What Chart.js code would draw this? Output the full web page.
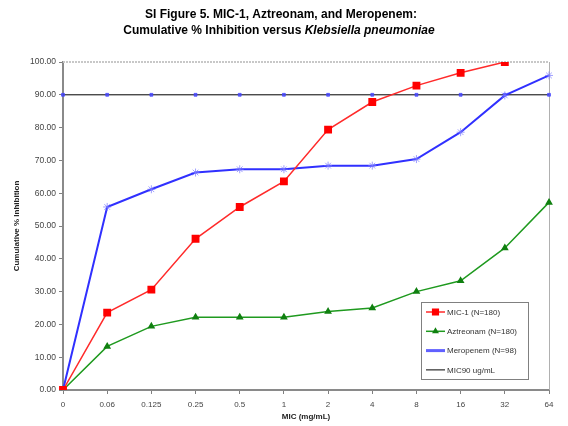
<!DOCTYPE html>
<html>
<head>
<meta charset="utf-8">
<script src="https://cdn.jsdelivr.net/npm/chart.js@4/dist/chart.umd.min.js"></script>
<style>
  html, body { margin: 0; padding: 0; background: #fff; }
  #wrap { width: 568px; height: 426px; position: relative; }
</style>
</head>
<body>
<div id="wrap"><canvas id="micChart" width="568" height="426"></canvas></div>
<script>
// MIC values (mg/mL) along the x axis
const micLabels = ['0', '0.06', '0.125', '0.25', '0.5', '1', '2', '4', '8', '16', '32', '64'];
const yTicks = [0, 10, 20, 30, 40, 50, 60, 70, 80, 90, 100];

// cumulative % inhibition per drug
const mic1 = [0, 23.6, 30.6, 46.1, 55.8, 63.6, 79.4, 87.8, 92.8, 96.7, 100, null];
const aztreonam = [0, 13.3, 19.4, 22.2, 22.2, 22.2, 23.9, 25.0, 30.0, 33.3, 43.3, 57.2];
const meropenem = [0, 55.8, 61.2, 66.3, 67.3, 67.3, 68.4, 68.4, 70.4, 78.6, 89.8, 95.9];
const mic90 = [90, 90, 90, 90, 90, 90, 90, 90, 90, 90, 90, 90];

const seriesNames = ['MIC-1 (N=180)', 'Aztreonam (N=180)', 'Meropenem (N=98)', 'MIC90 ug/mL'];

const FONT = '"Liberation Sans", Arial, sans-serif';

// title, frame and in-plot legend
const decorPlugin = {
  id: 'decor',
  beforeDatasetsDraw(chart) {
    const { ctx, chartArea: a } = chart;
    ctx.save();
    // dotted top edge and plain right edge of the plot
    ctx.strokeStyle = '#c8c8c8';
    ctx.lineWidth = 2;
    ctx.setLineDash([2, 1]);
    ctx.beginPath();
    ctx.moveTo(a.left, a.top);
    ctx.lineTo(a.right, a.top);
    ctx.stroke();
    ctx.setLineDash([]);
    ctx.strokeStyle = '#b0b0b0';
    ctx.lineWidth = 1;
    ctx.beginPath();
    ctx.moveTo(a.right + 0.5, a.top);
    ctx.lineTo(a.right + 0.5, a.bottom);
    ctx.stroke();
    ctx.restore();
  },
  afterDraw(chart) {
    const { ctx } = chart;
    ctx.save();

    // two-line title, species name in italics
    ctx.fillStyle = '#000';
    ctx.textBaseline = 'middle';
    ctx.textAlign = 'center';
    ctx.font = 'bold 12px ' + FONT;
    ctx.fillText('SI Figure 5. MIC-1, Aztreonam, and Meropenem:', 281, 15);
    const partA = 'Cumulative % Inhibition versus ';
    const partB = 'Klebsiella pneumoniae';
    ctx.font = 'bold 12px ' + FONT;
    const wA = ctx.measureText(partA).width;
    ctx.font = 'italic bold 12px ' + FONT;
    const wB = ctx.measureText(partB).width;
    const x0 = 279 - (wA + wB) / 2;
    ctx.textAlign = 'left';
    ctx.font = 'bold 12px ' + FONT;
    ctx.fillText(partA, x0, 31);
    ctx.font = 'italic bold 12px ' + FONT;
    ctx.fillText(partB, x0 + wA, 31);

    // legend box
    const bx = 421, by = 302, bw = 107, bh = 77;
    ctx.fillStyle = '#fff';
    ctx.fillRect(bx, by, bw, bh);
    ctx.strokeStyle = '#808080';
    ctx.lineWidth = 1;
    ctx.strokeRect(bx + 0.5, by + 0.5, bw, bh);

    ctx.font = '8px ' + FONT;
    ctx.textBaseline = 'middle';
    chart.data.datasets.forEach((ds, i) => {
      const y = 312 + i * 19.3;
      ctx.strokeStyle = ds.legendLine || ds.borderColor;
      ctx.lineWidth = ds.legendWidth || ds.borderWidth;
      ctx.beginPath();
      ctx.moveTo(426, y);
      ctx.lineTo(445, y);
      ctx.stroke();
      if (ds.showLegendPoint) {
        ctx.fillStyle = ds.pointBackgroundColor;
        ctx.strokeStyle = ds.pointBorderColor;
        Chart.helpers.drawPoint(ctx, {
          pointStyle: ds.pointStyle,
          radius: ds.pointRadius - 0.5,
          rotation: 0,
          borderWidth: 1
        }, 435.5, y);
      }
      ctx.fillStyle = '#333';
      ctx.fillText(seriesNames[i], 447, y + 0.5);
    });
    ctx.restore();
  }
};

function initChart() {
  const ctx = document.getElementById('micChart');
  new Chart(ctx, {
    type: 'line',
    data: {
      labels: micLabels,
      datasets: [
        {
          label: seriesNames[0],
          data: mic1,
          borderColor: '#ff2a2a',
          borderWidth: 1.5,
          pointStyle: 'rect',
          pointRadius: 4.5,
          pointBackgroundColor: '#ff0000',
          pointBorderColor: '#ff0000',
          showLegendPoint: true,
          tension: 0
        },
        {
          label: seriesNames[1],
          data: aztreonam,
          borderColor: '#1f9a1f',
          borderWidth: 1.5,
          pointStyle: 'triangle',
          pointRadius: 3,
          pointBackgroundColor: '#108010',
          pointBorderColor: '#108010',
          showLegendPoint: true,
          tension: 0
        },
        {
          label: seriesNames[2],
          data: meropenem,
          borderColor: '#3030ff',
          borderWidth: 2,
          pointStyle: 'star',
          pointRadius: 4,
          pointBorderWidth: 1,
          pointBackgroundColor: 'rgba(140,140,255,0.4)',
          pointBorderColor: 'rgba(120,120,255,0.7)',
          legendLine: '#6060ff',
          legendWidth: 3,
          showLegendPoint: false,
          tension: 0
        },
        {
          label: seriesNames[3],
          data: mic90,
          borderColor: '#000000',
          borderWidth: 1,
          pointStyle: 'rect',
          pointRadius: 2,
          pointBackgroundColor: 'rgba(70,70,255,0.8)',
          pointBorderColor: 'rgba(70,70,255,0.8)',
          showLegendPoint: false,
          tension: 0
        }
      ]
    },
    options: {
      responsive: false,
      animation: false,
      layout: { padding: { left: 12, right: 19, top: 62, bottom: 0 } },
      plugins: {
        legend: { display: false },
        title: { display: false },
        tooltip: { enabled: false }
      },
      scales: {
        x: {
          offset: false,
          grid: { display: true, drawOnChartArea: false, drawTicks: true, tickLength: 4, color: '#808080' },
          border: { color: '#8a8a8a', width: 2 },
          ticks: { color: '#444', font: { family: FONT, size: 8 }, maxRotation: 0, autoSkip: false, padding: 6 },
          title: { display: true, text: 'MIC (mg/mL)', color: '#222', font: { family: FONT, size: 8, weight: 'bold' }, padding: { top: 2 } },
          afterFit(scale) { scale.height = 36; }
        },
        y: {
          min: 0,
          max: 100,
          afterBuildTicks(scale) { scale.ticks = yTicks.map(v => ({ value: v })); },
          grid: { display: true, drawOnChartArea: false, drawTicks: true, tickLength: 4, color: '#808080' },
          border: { color: '#8a8a8a', width: 2 },
          ticks: {
            color: '#444',
            font: { family: FONT, size: 8.5 },
            padding: 3,
            callback: v => v.toFixed(2)
          },
          title: { display: true, text: 'Cumulative % Inhibition', color: '#222', font: { family: FONT, size: 8, weight: 'bold' }, padding: 0 },
          afterFit(scale) { scale.width = 51; }
        }
      }
    },
    plugins: [decorPlugin]
  });
}

document.addEventListener('DOMContentLoaded', initChart);
</script>
</body>
</html>
